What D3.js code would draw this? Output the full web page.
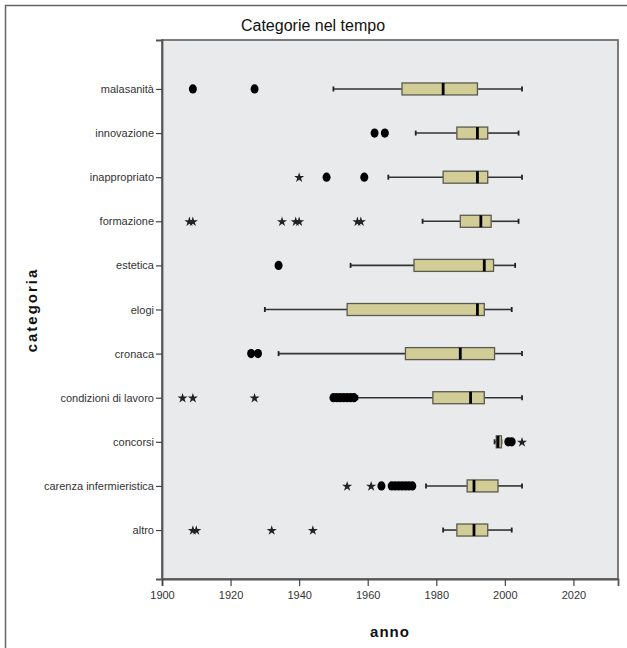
<!DOCTYPE html>
<html>
<head>
<meta charset="utf-8">
<script src="https://cdn.jsdelivr.net/npm/d3@7"></script>
<style>
  html, body { margin: 0; padding: 0; background: #ffffff; }
  svg { display: block; }
  text { font-family: "Liberation Sans", Arial, sans-serif; }
</style>
</head>
<body>
<svg id="chart" width="627" height="648"></svg>
<script>
// ---------------- DATA ----------------
const categories = ["malasanità", "innovazione", "inappropriato", "formazione", "estetica", "elogi",
  "cronaca", "condizioni di lavoro", "concorsi", "carenza infermieristica", "altro"];
const whiskerLow  = [1950, 1974, 1966, 1976, 1955, 1930, 1934, 1957, 1997,   1977, 1982];
const q1          = [1970, 1986, 1982, 1987, 1973.5, 1954, 1971, 1979, 1997.5, 1989, 1986];
const medians     = [1982, 1992, 1992, 1993, 1994, 1992, 1987, 1990, 1998,   1991, 1991];
const q3          = [1992, 1995, 1995, 1996, 1996.7, 1994, 1997, 1994, 1999,   1998, 1995];
const whiskerHigh = [2005, 2004, 2005, 2004, 2003, 2002, 2005, 2005, 1999,   2005, 2002];
// outliers (circles) and extremes (stars) per category
const outliers = [
  [1909, 1927],
  [1962, 1965],
  [1948, 1959],
  [],
  [1934],
  [],
  [1926, 1928],
  [1950, 1951, 1952, 1953, 1954, 1955, 1956],
  [2001, 2002],
  [1964, 1967, 1968, 1969, 1970, 1971, 1972, 1973],
  []
];
const extremes = [
  [],
  [],
  [1940],
  [1908, 1909, 1935, 1939, 1940, 1957, 1958],
  [],
  [],
  [],
  [1906, 1909, 1927],
  [2005],
  [1954, 1961],
  [1909, 1910, 1932, 1944]
];
const xTicks = [1900, 1920, 1940, 1960, 1980, 2000, 2020];
const xDomain = [1900, 2033];

// ---------------- LAYOUT ----------------
const svg = d3.select("#chart");
const L = 162, R = 618, T = 40, B = 579;

// outer frame
svg.append("rect").attr("x", 5.5).attr("y", 5.5).attr("width", 640).attr("height", 660)
  .attr("fill", "none").attr("stroke", "#666").attr("stroke-width", 1.5);

// title
svg.append("text").attr("x", 313).attr("y", 31).attr("text-anchor", "middle")
  .attr("font-size", 16).attr("fill", "#111").text("Categorie nel tempo");

// plot background
svg.append("rect").attr("x", L).attr("y", T).attr("width", R - L).attr("height", B - T)
  .attr("fill", "#e9eaec").attr("stroke", "#6f6f6f").attr("stroke-width", 1.8);

const x = d3.scaleLinear().domain(xDomain).range([L, R]);
const y = d3.scalePoint().domain(categories).range([T, B]).padding(1.11);

// axes
const xAxis = svg.append("g").attr("transform", `translate(0,${B})`)
  .call(d3.axisBottom(x).tickValues(xTicks).tickFormat(d3.format("d")).tickSize(7).tickPadding(5));
const yAxis = svg.append("g").attr("transform", `translate(${L},0)`)
  .call(d3.axisLeft(y).tickSize(6).tickPadding(2));
[xAxis, yAxis].forEach(g => {
  g.select(".domain").attr("stroke", "#555").attr("stroke-width", 1.8);
  g.selectAll(".tick line").attr("stroke", "#444").attr("stroke-width", 1.2);
  g.selectAll(".tick text").attr("fill", "#333").attr("font-size", 11)
    .attr("font-family", "Liberation Sans, Arial, sans-serif");
});

// axis titles
svg.append("text").attr("x", 390).attr("y", 637).attr("text-anchor", "middle")
  .attr("font-size", 15).attr("font-weight", "bold").attr("letter-spacing", 1)
  .attr("fill", "#111").text("anno");
svg.append("text").attr("transform", "translate(37,310) rotate(-90)").attr("text-anchor", "middle")
  .attr("font-size", 15).attr("font-weight", "bold").attr("letter-spacing", 2)
  .attr("fill", "#111").text("categoria");

// ---------------- BOXES ----------------
const boxH = 12;
const rows = categories.map((c, i) => ({
  c, lo: whiskerLow[i], q1: q1[i], med: medians[i], q3: q3[i], hi: whiskerHigh[i],
  out: outliers[i], ext: extremes[i]
}));
const g = svg.append("g");
const row = g.selectAll("g.row").data(rows).join("g").attr("class", "row");

// whiskers
row.append("line").attr("x1", d => x(d.lo)).attr("x2", d => x(d.q1))
  .attr("y1", d => y(d.c)).attr("y2", d => y(d.c)).attr("stroke", "#333").attr("stroke-width", 1.6);
row.append("line").attr("x1", d => x(d.q3)).attr("x2", d => x(d.hi))
  .attr("y1", d => y(d.c)).attr("y2", d => y(d.c)).attr("stroke", "#333").attr("stroke-width", 1.6);
// whisker caps
row.append("line").attr("x1", d => x(d.lo)).attr("x2", d => x(d.lo))
  .attr("y1", d => y(d.c) - 2.5).attr("y2", d => y(d.c) + 2.5).attr("stroke", "#222").attr("stroke-width", 1.8);
row.append("line").attr("x1", d => x(d.hi)).attr("x2", d => x(d.hi))
  .attr("y1", d => y(d.c) - 2.5).attr("y2", d => y(d.c) + 2.5).attr("stroke", "#222").attr("stroke-width", 1.8);
// box
row.append("rect").attr("x", d => x(d.q1)).attr("width", d => x(d.q3) - x(d.q1))
  .attr("y", d => y(d.c) - boxH / 2).attr("height", boxH)
  .attr("fill", "#d2cc96").attr("stroke", "#5a5a50").attr("stroke-width", 1.3);
// median
row.append("line").attr("x1", d => x(d.med)).attr("x2", d => x(d.med))
  .attr("y1", d => y(d.c) - boxH / 2).attr("y2", d => y(d.c) + boxH / 2)
  .attr("stroke", "#000").attr("stroke-width", 2.8);

// outliers (circles)
row.each(function(d) {
  const sel = d3.select(this);
  sel.selectAll("ellipse").data(d.out).join("ellipse")
    .attr("cx", v => x(v)).attr("cy", y(d.c)).attr("rx", 4).attr("ry", 4.6).attr("fill", "#000");
  const star = d3.symbol().type(d3.symbolStar).size(32);
  sel.selectAll("path.star").data(d.ext).join("path").attr("class", "star")
    .attr("d", star).attr("transform", v => `translate(${x(v)},${y(d.c) + 0.5})`)
    .attr("fill", "#222");
});
</script>
</body>
</html>
